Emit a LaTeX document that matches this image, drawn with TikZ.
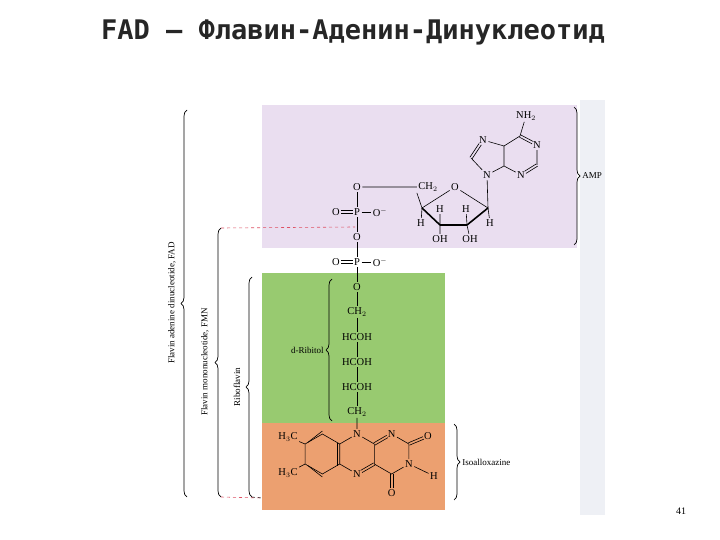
\documentclass[tikz,border=0pt]{standalone}
\usepackage{fontspec}
\setmainfont{Liberation Serif}
\newfontfamily\titlefont{DejaVu Sans Mono}
\usetikzlibrary{decorations.pathreplacing,calc}
\definecolor{amp}{RGB}{234,222,240}
\definecolor{rib}{RGB}{152,202,112}
\definecolor{iso}{RGB}{236,160,112}
\definecolor{strip}{RGB}{238,240,245}
\definecolor{reddash}{RGB}{222,80,100}
\tikzset{
  atom/.style={inner sep=1.4pt,font=\fontsize{10.5}{11}\selectfont},
  bond/.style={line width=0.6pt},
  brc/.style={decorate,decoration={brace,amplitude=6pt},line width=0.7pt},
  lbl/.style={font=\fontsize{9}{10}\selectfont,inner sep=1pt},
  fmnline/.style={dashed,reddash,line width=0.6pt}
}
% double bond: from a to b, shortened by sa at a and sb at b
\newcommand\dbnd[4]{%
  \draw[bond,shorten <=#3,shorten >=#4] ($(#1)!1.3pt!90:(#2)$) -- ($(#2)!1.3pt!-90:(#1)$);
  \draw[bond,shorten <=#3,shorten >=#4] ($(#1)!1.3pt!-90:(#2)$) -- ($(#2)!1.3pt!90:(#1)$);}
\begin{document}
\begin{tikzpicture}[x=1pt,y=-1pt]
\useasboundingbox (0,0) rectangle (720,540);
\fill[white] (0,0) rectangle (720,540);
% backgrounds
\fill[strip] (580,100) rectangle (605,515);
\fill[amp] (262,105) rectangle (577,248);
\fill[rib] (262,273) rectangle (445,423);
\fill[iso] (262,423) rectangle (445,510);
% title and page
\node[font=\titlefont\bfseries\fontsize{27}{30}\selectfont,text=black!85] (title) at (353,32) {FAD – Флавин-Аденин-Динуклеотид};
\node[font=\fontsize{10}{12}\selectfont] (page) at (681,511) {41};
% phosphate chain
\node[atom] (O1) at (357,187) {O};
\node[atom] (P1) at (357,212) {P};
\node[atom] (Oa) at (336,212) {O};
\node[atom] (Om1) at (380,212) {O$^{-}$};
\node[atom] (O2) at (357,237) {O};
\node[atom] (P2) at (357,262) {P};
\node[atom] (Ob) at (336,262) {O};
\node[atom] (Om2) at (380,262) {O$^{-}$};
\node[atom] (O3) at (357,287) {O};
\node[atom] (Ca) at (357,312) {CH$_2$};
\node[atom] (Cb) at (357,337) {HCOH};
\node[atom] (Cc) at (357,362) {HCOH};
\node[atom] (Cd) at (357,387) {HCOH};
\node[atom] (Ce) at (357,412) {CH$_2$};
\draw[bond] (O1.south)--(P1.north) (P1.south)--(O2.north) (O2.south)--(P2.north) (P2.south)--(O3.north) (O3.south)--(Ca.north) (Ca.south)--(Cb.north) (Cb.south)--(Cc.north) (Cc.south)--(Cd.north) (Cd.south)--(Ce.north);
\draw[bond] (P1.east)--(Om1.west) (P2.east)--(Om2.west);
\dbnd{Oa}{P1}{5pt}{4.5pt}
\dbnd{Ob}{P2}{5pt}{4.5pt}
% ribose
\node[atom] (CHr) at (428,187) {CH$_2$};
\node[atom] (Or) at (455,187) {O};
\coordinate (C4) at (422,208);
\coordinate (C3) at (440,225);
\coordinate (C2) at (467,225);
\coordinate (C1) at (488,208);
\node[atom] (H4) at (421,223) {H};
\node[atom] (H3) at (440,209) {H};
\node[atom] (H2) at (466,209) {H};
\node[atom] (H1) at (490,223) {H};
\node[atom] (OH3) at (440,239) {OH};
\node[atom] (OH2) at (470,239) {OH};
\draw[bond] (O1.east)--(CHr.west) (CHr.south west)--(C4) (C4)--(Or) (Or)--(C1);
\draw[line width=1.6pt] (C4)--(C3) (C2)--(C1);
\draw[line width=2.6pt] (C3)--(C2);
\draw[bond] (C4)--(H4) (C3)--(H3) (C2)--(H2) (C1)--(H1) (C3)--(OH3) (C2)--(OH2);
% adenine
\node[atom] (N9) at (487,175) {N};
\coordinate (C8) at (471,158);
\node[atom] (N7) at (483,140) {N};
\coordinate (C5) at (504,146);
\coordinate (C4a) at (504,166);
\coordinate (C6) at (520,136);
\node[atom] (N1a) at (537,145) {N};
\coordinate (C2a) at (537,165);
\node[atom] (N3a) at (521,175) {N};
\node[atom] (NH2) at (526,116) {NH$_2$};
\draw[bond] (C1)--(N9) (N9)--(C8) (N7)--(C5) (C5)--(C4a) (C4a)--(N9) (C5)--(C6) (C6)--(NH2) (N1a)--(C2a) (N3a)--(C4a);
\dbnd{C8}{N7}{0pt}{5pt}
\dbnd{C6}{N1a}{0pt}{5pt}
\dbnd{C2a}{N3a}{0pt}{5pt}
% isoalloxazine
\node[atom] (N10) at (357,434) {N};
\node[atom] (N5) at (357,474) {N};
\node[atom] (N1) at (391.6,434) {N};
\coordinate (C2i) at (408.9,444);
\node[atom] (N3) at (408.9,464) {N};
\coordinate (C4i) at (391.6,474);
\node[atom] (O2i) at (428,436) {O};
\node[atom] (O4i) at (391.6,493) {O};
\node[atom] (Hn) at (434,476) {H};
\coordinate (C10a) at (374.3,444);
\coordinate (C4ai) at (374.3,464);
\coordinate (C9a) at (339.7,444);
\coordinate (C5a) at (339.7,464);
\coordinate (C9) at (322.4,434);
\coordinate (C8i) at (305.1,444);
\coordinate (C7) at (305.1,464);
\coordinate (C6i) at (322.4,474);
\node[atom] (Me1) at (288,437) {H$_3$C};
\node[atom] (Me2) at (288,473) {H$_3$C};
\draw[bond] (Ce.south)--(N10.north) (N10)--(C9a) (N10)--(C10a) (C10a)--(C4ai) (C4ai)--(C4i) (C4i)--(N3) (N3)--(C2i) (C2i)--(N1) (N3)--(Hn);
\dbnd{N1}{C10a}{5pt}{0pt}
\dbnd{C4ai}{N5}{0pt}{5pt}
\dbnd{C2i}{O2i}{0pt}{5pt}
\dbnd{C4i}{O4i}{0pt}{5.5pt}
\draw[bond] (N5)--(C5a) (C5a)--(C9a) (C9a)--(C9) (C9)--(C8i) (C8i)--(C7) (C7)--(C6i) (C6i)--(C5a) (C8i)--(Me1) (C7)--(Me2);
\draw[bond] ([yshift=3pt]C9) -- ([xshift=2.6pt,yshift=1.5pt]C8i);
\draw[bond] ([yshift=-3pt]C6i) -- ([xshift=2.6pt,yshift=-1.5pt]C7);
\draw[bond] ([xshift=-2.6pt,yshift=1.5pt]C9a) -- ([xshift=-2.6pt,yshift=-1.5pt]C5a);
% braces
\coordinate (fadB) at (187,497); \coordinate (fadT) at (187,110);
\draw[brc] (fadB) -- (fadT);
\node[lbl,rotate=90] (fadL) at (172,303) {Flavin adenine dinucleotide, FAD};
\coordinate (fmnB) at (221,497); \coordinate (fmnT) at (221,228);
\draw[brc] (fmnB) -- (fmnT);
\node[lbl,rotate=90] (fmnL) at (205,362) {Flavin mononucleotide, FMN};
\coordinate (rfB) at (252,497); \coordinate (rfT) at (252,277);
\draw[brc] (rfB) -- (rfT);
\node[lbl,rotate=90] (rfL) at (237,387) {Riboflavin};
\coordinate (ribB) at (332,421); \coordinate (ribT) at (332,279);
\draw[brc] (ribB) -- node[left=7pt,lbl] (ribL) {\textsc{d}-Ribitol} (ribT);
\coordinate (ampT) at (574,107); \coordinate (ampB) at (574,245);
\draw[brc] (ampT) -- node[right=7pt,lbl] (ampL) {AMP} (ampB);
\coordinate (isoT) at (454,424); \coordinate (isoB) at (454,500);
\draw[brc] (isoT) -- node[right=7pt,lbl] (isoL) {Isoalloxazine} (isoB);
% dashed lines
\coordinate (dT) at (355,227); \coordinate (dB) at (262,498);
\draw[fmnline] (fmnT) -- (dT);
\draw[fmnline] (fmnB) -- (dB);
\draw[dashed,line width=0.5pt] (rfB) -- (dB);
\end{tikzpicture}
\end{document}
